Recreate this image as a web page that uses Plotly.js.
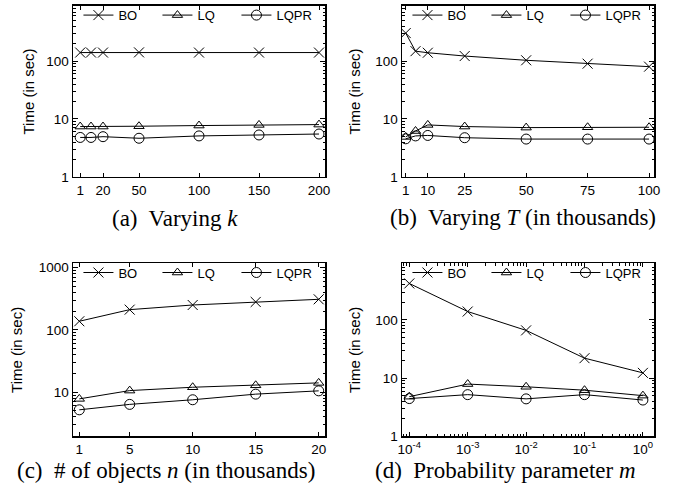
<!DOCTYPE html>
<html>
<head>
<meta charset="utf-8">
<script src="https://cdn.plot.ly/plotly-3.0.1.min.js"></script>
<style>html,body{margin:0;padding:0;background:#fff;}#chart{width:681px;height:490px;}</style>
</head>
<body>
<div id="chart"></div>
<script>
// ---- Data ----
const seriesNames = ["BO", "LQ", "LQPR"];

// (a) Varying k
const kValues = [1, 10, 20, 50, 100, 150, 200];
const kTickVals = [1, 20, 50, 100, 150, 200];
const aBO   = [140, 140, 140, 141, 140, 140, 140];
const aLQ   = [7.4, 7.4, 7.4, 7.5, 7.7, 7.9, 8.0];
const aLQPR = [4.8, 4.8, 4.95, 4.65, 5.1, 5.3, 5.5];

// (b) Varying T (in thousands)
const tValues = [1, 5, 10, 25, 50, 75, 100];
const tTickVals = [1, 10, 25, 50, 75, 100];
const bBO   = [304, 148, 139, 122, 103, 90, 80];
const bLQ   = [4.9, 6.2, 7.9, 7.4, 7.1, 7.2, 7.2];
const bLQPR = [4.55, 5.1, 5.2, 4.75, 4.5, 4.5, 4.5];

// (c) # of objects n (in thousands)
const nValues = [1, 5, 10, 15, 20];
const cBO   = [138, 212, 252, 282, 311];
const cLQ   = [7.8, 10.6, 12.0, 12.9, 14.1];
const cLQPR = [5.2, 6.36, 7.55, 9.3, 10.5];

// (d) Probability parameter m
const mValues = [1e-4, 1e-3, 1e-2, 1e-1, 1];
const mTickText = ["10<sup>-4</sup>", "10<sup>-3</sup>", "10<sup>-2</sup>", "10<sup>-1</sup>", "10<sup>0</sup>"];
const dBO   = [422, 139, 66, 22, 12.3];
const dLQ   = [4.8, 7.9, 7.1, 6.2, 5.0];
const dLQPR = [4.45, 5.2, 4.4, 5.2, 4.2];

const captions = [
  "(a)  Varying <i>k</i>",
  "(b)  Varying <i>T</i> (in thousands)",
  "(c)  # of objects <i>n</i> (in thousands)",
  "(d)  Probability parameter <i>m</i>"
];

// ---- Build ----
const symbols = ["x-thin-open", "triangle-up-open", "circle-open"];
const sizes = [10, 9, 10];
const panels = [
  {x: kValues, ys: [aBO, aLQ, aLQPR]},
  {x: tValues, ys: [bBO, bLQ, bLQPR]},
  {x: nValues, ys: [cBO, cLQ, cLQPR]},
  {x: mValues, ys: [dBO, dLQ, dLQPR]}
];
const traces = [];
panels.forEach((p, i) => {
  const sfx = i === 0 ? "" : String(i + 1);
  p.ys.forEach((y, j) => {
    traces.push({
      type: "scatter", mode: "lines+markers",
      x: p.x, y: y, name: seriesNames[j],
      xaxis: "x" + sfx, yaxis: "y" + sfx,
      legend: "legend" + sfx,
      line: {color: "#000", width: 1},
      marker: {symbol: symbols[j], size: sizes[j], color: "#000", line: {color: "#000", width: 1}}
    });
  });
});

const SANS = "Liberation Sans";
const tickFont = {family: SANS, size: 13.5, color: "#000"};
function xAx(domain, anchor, extra) {
  return Object.assign({
    domain: domain, anchor: anchor, showgrid: false, zeroline: false,
    showline: true, linecolor: "#000", linewidth: 1.5, mirror: "ticks",
    ticks: "inside", ticklen: 4, tickcolor: "#000", tickfont: tickFont,
    tickmode: "array", automargin: false
  }, extra);
}
function yAx(domain, anchor, range, tickvals, standoff) {
  return {
    domain: domain, anchor: anchor, type: "log", range: range,
    showgrid: false, zeroline: false,
    showline: true, linecolor: "#000", linewidth: 1.5, mirror: "ticks",
    ticks: "inside", ticklen: 5, tickcolor: "#000", tickfont: tickFont,
    tickmode: "array", tickvals: tickvals, ticktext: tickvals.map(String),
    minor: {ticks: "inside", ticklen: 2.5, tickcolor: "#000", dtick: "D1", showgrid: false},
    title: {text: "Time (in sec)", font: {family: SANS, size: 15, color: "#000"}, standoff: standoff},
    automargin: false
  };
}

const xdL = [73/681, 325/681], xdR = [402/681, 654/681];
const ydT = [1 - 175/490, 1 - 3/490], ydB = [1 - 436/490, 1 - 262/490];

function legendAt(xd, yd) {
  return {
    orientation: "h", x: xd[0] + 0.008, y: yd[1] + 0.012, xanchor: "left", yanchor: "top",
    bgcolor: "rgba(0,0,0,0)", font: {family: SANS, size: 13, color: "#000"},
    itemclick: false, entrywidth: 34, tracegroupgap: 0
  };
}

const annotations = captions.map((t, i) => ({
  text: t, showarrow: false, xref: "paper", yref: "paper",
  x: [175, 523, 166, 505][i] / 681, y: 1 - [217, 216, 470, 470][i] / 490,
  xanchor: "center", yanchor: "middle",
  font: {family: "Liberation Serif", size: 23, color: "#000"}
}));

const layout = {
  width: 681, height: 490,
  margin: {l: 0, r: 0, t: 0, b: 0},
  paper_bgcolor: "#fff", plot_bgcolor: "#fff",
  showlegend: true,
  xaxis:  xAx(xdL, "y",  {range: [-5, 205], tickvals: kTickVals, ticktext: kTickVals.map(String)}),
  yaxis:  yAx(ydT, "x",  [0, 2.95], [1, 10, 100], 8),
  xaxis2: xAx(xdR, "y2", {range: [-0.5, 102], tickvals: tTickVals, ticktext: tTickVals.map(String)}),
  yaxis2: yAx(ydT, "x2", [0, 2.95], [1, 10, 100], 11),
  xaxis3: xAx(xdL, "y3", {range: [0.5, 20.5], tickvals: nValues, ticktext: nValues.map(String)}),
  yaxis3: yAx(ydB, "x3", [0.29, 3.07], [10, 100, 1000], 12),
  xaxis4: xAx(xdR, "y4", {type: "log", range: [-4.125, 0.19], tickvals: mValues, ticktext: mTickText,
                         minor: {ticks: "inside", ticklen: 2.5, tickcolor: "#000", dtick: "D1", showgrid: false}}),
  yaxis4: yAx(ydB, "x4", [0, 2.97], [1, 10, 100], 11),
  legend:  legendAt(xdL, ydT),
  legend2: legendAt(xdR, ydT),
  legend3: legendAt(xdL, ydB),
  legend4: legendAt(xdR, ydB),
  annotations: annotations
};

Plotly.newPlot("chart", traces, layout, {staticPlot: true, displayModeBar: false});
</script>
</body>
</html>
